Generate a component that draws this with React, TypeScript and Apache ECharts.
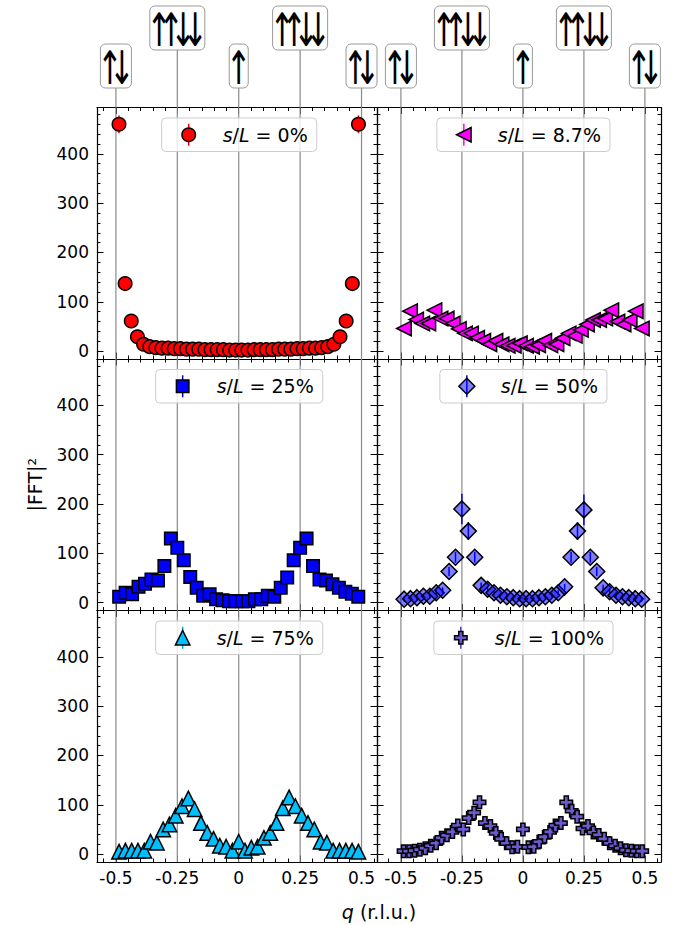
import React, { useEffect, useRef } from 'react';
import * as echarts from 'echarts';

const FONT = '"DejaVu Sans", "Liberation Sans", sans-serif';

// q grids (r.l.u.)
const Q40 = [-0.4875,-0.4625,-0.4375,-0.4125,-0.3875,-0.3625,-0.3375,-0.3125,-0.2875,-0.2625,-0.2375,-0.2125,-0.1875,-0.1625,-0.1375,-0.1125,-0.0875,-0.0625,-0.0375,-0.0125,0.0125,0.0375,0.0625,0.0875,0.1125,0.1375,0.1625,0.1875,0.2125,0.2375,0.2625,0.2875,0.3125,0.3375,0.3625,0.3875,0.4125,0.4375,0.4625,0.4875];
const Q38 = [-0.4868,-0.4605,-0.4342,-0.4079,-0.3816,-0.3553,-0.3289,-0.3026,-0.2763,-0.25,-0.2237,-0.1974,-0.1711,-0.1447,-0.1184,-0.0921,-0.0658,-0.0395,-0.0132,0.0132,0.0395,0.0658,0.0921,0.1184,0.1447,0.1711,0.1974,0.2237,0.25,0.2763,0.3026,0.3289,0.3553,0.3816,0.4079,0.4342,0.4605,0.4868];
const Q39 = [-0.4872,-0.4615,-0.4359,-0.4103,-0.3846,-0.359,-0.3333,-0.3077,-0.2821,-0.2564,-0.2308,-0.2051,-0.1795,-0.1538,-0.1282,-0.1026,-0.0769,-0.0513,-0.0256,0,0.0256,0.0513,0.0769,0.1026,0.1282,0.1538,0.1795,0.2051,0.2308,0.2564,0.2821,0.3077,0.3333,0.359,0.3846,0.4103,0.4359,0.4615,0.4872];
const Q45 = [-0.4889,-0.4667,-0.4444,-0.4222,-0.4,-0.3778,-0.3556,-0.3333,-0.3111,-0.2889,-0.2667,-0.2444,-0.2222,-0.2,-0.1778,-0.1556,-0.1333,-0.1111,-0.0889,-0.0667,-0.0444,-0.0222,0,0.0222,0.0444,0.0667,0.0889,0.1111,0.1333,0.1556,0.1778,0.2,0.2222,0.2444,0.2667,0.2889,0.3111,0.3333,0.3556,0.3778,0.4,0.4222,0.4444,0.4667,0.4889];

// |FFT|^2 values per panel
const V_0 = [460,137,61,29,14,9,7,6,6,5,5,4,4,4,3,3,3,3,2,2,2,2,3,3,3,3,4,4,4,5,5,6,6,7,9,14,29,61,137,460];
const E_0 = [18,6,3,2,1,1,1,1,1,1,1,1,1,1,1,1,1,1,1,1,1,1,1,1,1,1,1,1,1,1,1,1,1,1,1,1,2,3,6,18];
const V_87 = [46,81,64,56,56,83,66,66,56,45,36,36,27,21,14,21,14,11,11,16,11,9,12,21,12,14,26,36,31,43,54,63,63,66,83,60,54,63,81,46];
const V_25 = [12,20,17,32,38,47,45,74,130,111,86,52,30,14,17,7,5,3,3,3,3,7,7,14,12,30,51,86,111,130,74,47,45,37,30,22,18,12];
const V_50 = [7,8,10,13,13,20,25,63,92,190,145,92,35,27,20,15,12,10,8,8,8,10,12,15,20,32,92,145,188,92,63,30,22,15,12,10,8,7];
const E_50 = [5,5,5,5,5,5,6,9,11,31,18,11,6,5,5,5,5,5,5,5,5,5,5,5,5,6,11,18,31,11,9,6,5,5,5,5,5,5];
const V_75 = [5,7,7,7,7,25,23,50,60,78,97,113,91,63,43,31,17,15,7,25,7,13,15,33,43,63,93,115,97,78,63,50,25,23,7,7,7,7,5];
const V_100 = [6,6,7,9,12,17,22,33,38,45,58,50,73,84,105,63,57,43,31,22,14,15,50,14,15,25,35,45,58,63,105,88,76,52,57,44,39,31,22,17,12,8,7,6,6];

const X_MAJOR = [-0.5, -0.25, 0, 0.25, 0.5];
const X_MINOR = [-0.55,-0.45,-0.4,-0.35,-0.3,-0.2,-0.15,-0.1,-0.05,0.05,0.1,0.15,0.2,0.3,0.35,0.4,0.45,0.55];
const Y_MAJOR = [0, 100, 200, 300, 400];
const Y_MINOR = [20,40,60,80,120,140,160,180,220,240,260,280,320,340,360,380,420,440,460,480];
const GUIDE_Q = [-0.5, -0.25, 0, 0.25, 0.5];
const ANNOT_Q = [-0.5, -0.25, 0, 0.25, 0.5];
const ANNOT_ARROWS = [['↑', '↓'], ['↑', '↑', '↓', '↓'], ['↑'], ['↑', '↑', '↓', '↓'], ['↑', '↓']];
const ANNOT_TALL = [false, true, false, true, false];
const LABELS = ['0%', '8.7%', '25%', '50%', '75%', '100%'];
const Y_TITLE = '|FFT|²';
const X_TITLE = '{i|q} (r.l.u.)';

// layout
const GRID_LEFT = [97, 377];
const GRID_WIDTH = [280, 284];
const GRID_TOP0 = 107.5;
const ROW_H = 251.5;
const X_RANGE = [[-0.577, 0.563], [-0.598, 0.566]];
const Y_RANGE = [-16, 494];
const ARROW_STEP = 12;

const LEFT_TRI = 'path://M0,5L10,0L10,10Z';
const PLUS = 'path://M1,0H2V1H3V2H2V3H1V2H0V1H1Z';

const PANELS = [
  { q: Q40, v: V_0, e: E_0, symbol: 'circle', kind: 'circle', size: 13.5, color: '#ff0000', err: '#e00000' },
  { q: Q40, v: V_87, e: null, symbol: LEFT_TRI, kind: 'left', size: 14.5, color: '#ff00ff', err: '#ff00ff' },
  { q: Q38, v: V_25, e: null, symbol: 'rect', kind: 'rect', size: 12.5, color: '#0000ff', err: '#0000aa' },
  { q: Q38, v: V_50, e: E_50, symbol: 'diamond', kind: 'diamond', size: 16, color: 'rgba(0,0,255,0.5)', err: '#0000cc' },
  { q: Q39, v: V_75, e: null, symbol: 'triangle', kind: 'up', size: 14.5, color: '#00bfff', err: '#00a8e0' },
  { q: Q45, v: V_100, e: null, symbol: PLUS, kind: 'plus', size: 12.5, color: '#6a5acd', err: '#5533bb' },
];

const fmtX = (v: number) => String(Math.round(v * 100) / 100);
const fmtY = (v: number) => String(Math.round(v));

function tickAxis(kind: 'x' | 'y', g: number, position: string, min: number, max: number, values: number[], len: number, line: boolean, labels: boolean) {
  return {
    type: 'value', gridIndex: g, position, min, max, silent: true,
    splitLine: { show: false },
    axisLine: { show: line, onZero: false, lineStyle: { color: '#000', width: 1.2 } },
    axisTick: { show: true, inside: true, length: len, customValues: values, lineStyle: { color: '#000', width: 1 } },
    axisLabel: {
      show: labels, customValues: values, color: '#000', fontSize: 17, fontFamily: FONT,
      margin: kind === 'x' ? 7 : 8, formatter: kind === 'x' ? fmtX : fmtY,
    },
  };
}

function legendMarker(kind: string, cx: number, cy: number, s: number, fill: string) {
  const style = { fill, stroke: '#000', lineWidth: 1.5 };
  const h = s / 2;
  if (kind === 'circle') return { type: 'circle', shape: { cx, cy, r: h }, style };
  if (kind === 'rect') return { type: 'rect', shape: { x: cx - h, y: cy - h, width: s, height: s }, style };
  let pts: number[][] = [];
  if (kind === 'left') pts = [[cx - h, cy], [cx + h, cy - h], [cx + h, cy + h]];
  if (kind === 'up') pts = [[cx, cy - h], [cx + h, cy + h], [cx - h, cy + h]];
  if (kind === 'diamond') pts = [[cx, cy - h], [cx + h, cy], [cx, cy + h], [cx - h, cy]];
  if (kind === 'plus') {
    const u = s / 3;
    const P = [[1,0],[2,0],[2,1],[3,1],[3,2],[2,2],[2,3],[1,3],[1,2],[0,2],[0,1],[1,1]];
    pts = P.map(([a, b]) => [cx - h + a * u, cy - h + b * u]);
  }
  return { type: 'polygon', shape: { points: pts }, style };
}

export default function App() {
  const ref = useRef<HTMLDivElement>(null);
  useEffect(() => {
    if (!ref.current) return;
    const chart = echarts.init(ref.current, null, { renderer: 'svg' });
    const grids: any[] = [];
    const xAxis: any[] = [];
    const yAxis: any[] = [];
    const series: any[] = [];
    PANELS.forEach((p, g) => {
      const col = g % 2;
      const row = Math.floor(g / 2);
      grids.push({ left: GRID_LEFT[col], width: GRID_WIDTH[col], top: GRID_TOP0 + row * ROW_H, height: ROW_H, containLabel: false, outerBoundsMode: 'none' });
      const [xmin, xmax] = X_RANGE[col];
      const xMin = X_MINOR.filter((v) => v > xmin && v < xmax);
      xAxis.push(tickAxis('x', g, 'bottom', xmin, xmax, X_MAJOR, 6.5, true, row === 2));
      xAxis.push(tickAxis('x', g, 'bottom', xmin, xmax, xMin, 3.5, false, false));
      xAxis.push(tickAxis('x', g, 'top', xmin, xmax, X_MAJOR, 6.5, true, false));
      xAxis.push(tickAxis('x', g, 'top', xmin, xmax, xMin, 3.5, false, false));
      yAxis.push(tickAxis('y', g, 'left', Y_RANGE[0], Y_RANGE[1], Y_MAJOR, 6.5, true, col === 0));
      yAxis.push(tickAxis('y', g, 'left', Y_RANGE[0], Y_RANGE[1], Y_MINOR, 3.5, false, false));
      yAxis.push(tickAxis('y', g, 'right', Y_RANGE[0], Y_RANGE[1], Y_MAJOR, 6.5, true, false));
      yAxis.push(tickAxis('y', g, 'right', Y_RANGE[0], Y_RANGE[1], Y_MINOR, 3.5, false, false));
      const ax = g * 4;
      series.push({
        type: 'custom', xAxisIndex: ax, yAxisIndex: ax, silent: true, z: 1, clip: false,
        data: GUIDE_Q.map((q) => [q, 0]),
        renderItem: (_params: any, api: any) => {
          const x = api.value(0);
          const a = api.coord([x, Y_RANGE[0]]);
          const b = api.coord([x, Y_RANGE[1]]);
          return { type: 'line', shape: { x1: a[0], y1: a[1], x2: b[0], y2: b[1] }, style: { stroke: '#8a8a8a', lineWidth: 1.2 } };
        },
      });
      if (p.e) {
        const e = p.e;
        series.push({
          type: 'custom', xAxisIndex: ax, yAxisIndex: ax, silent: true, z: 2, clip: false,
          data: p.q.map((q, i) => [q, p.v[i], e[i]]),
          renderItem: (_params: any, api: any) => {
            const x = api.value(0), y = api.value(1), d = api.value(2);
            const a = api.coord([x, y - d]);
            const b = api.coord([x, y + d]);
            return { type: 'line', shape: { x1: a[0], y1: a[1], x2: b[0], y2: b[1] }, style: { stroke: p.err, lineWidth: 1.5 } };
          },
        });
      }
      series.push({
        type: 'scatter', xAxisIndex: ax, yAxisIndex: ax, silent: true, z: 3,
        symbol: p.symbol, symbolSize: p.size,
        itemStyle: { color: p.color, borderColor: '#000', borderWidth: 1.5, opacity: 1 },
        data: p.q.map((q, i) => [q, p.v[i]]),
      });
    });
    chart.setOption({ animation: false, grid: grids, xAxis, yAxis, series });

    const canvas = document.createElement('canvas');
    const ctx = canvas.getContext('2d')!;
    const measure = (t: string, size: number, italic = false) => {
      ctx.font = `${italic ? 'italic ' : ''}${size}px "DejaVu Sans"`;
      return ctx.measureText(t).width;
    };

    const els: any[] = [];
    // annotations above the top row
    [0, 1].forEach((g) => {
      const yTop = chart.convertToPixel({ yAxisIndex: g * 4 } as any, Y_RANGE[1]) as unknown as number;
      ANNOT_Q.forEach((q, i) => {
        const x = chart.convertToPixel({ xAxisIndex: g * 4 } as any, q) as unknown as number;
        const yb = yTop - (ANNOT_TALL[i] ? 57.5 : 19.5);
        const arrows = ANNOT_ARROWS[i];
        const n = arrows.length;
        const bw = n * ARROW_STEP + 7;
        const bh = 44;
        els.push({ type: 'line', silent: true, z: 5, shape: { x1: x, y1: yTop, x2: x, y2: yb }, style: { stroke: '#8a8a8a', lineWidth: 1.2 } });
        els.push({ type: 'rect', silent: true, z: 6, shape: { x: x - bw / 2, y: yb - bh, width: bw, height: bh, r: 5 }, style: { fill: '#fff', stroke: '#999', lineWidth: 1 } });
        arrows.forEach((a, k) => {
          els.push({
            type: 'text', silent: true, z: 7,
            x: x + (k - (n - 1) / 2) * ARROW_STEP, y: yb - bh / 2 + 2.5, scaleX: 0.66, scaleY: 1,
            style: { text: a, fontSize: 46, fontFamily: FONT, fill: '#000', align: 'center', verticalAlign: 'middle' },
          });
        });
      });
    });
    // legends
    PANELS.forEach((p, g) => {
      const ax = g * 4;
      const cx = (chart.convertToPixel({ xAxisIndex: ax } as any, 0) as unknown as number) + 0.5;
      const top = (chart.convertToPixel({ yAxisIndex: ax } as any, Y_RANGE[1]) as unknown as number) + 10.5;
      const rest = ` = ${LABELS[g]}`;
      const tw = measure('s', 19, true) + measure('/', 19) + measure('L', 19, true) + measure(rest, 19);
      const W = 61 + tw + 9;
      const H = 33.5;
      const left = cx - W / 2;
      const cy = top + H / 2;
      els.push({ type: 'rect', silent: true, z: 20, shape: { x: left, y: top, width: W, height: H, r: 4 }, style: { fill: 'rgba(255,255,255,0.8)', stroke: '#cccccc', lineWidth: 1 } });
      els.push({ type: 'line', silent: true, z: 21, shape: { x1: left + 27, y1: cy - 11, x2: left + 27, y2: cy + 11 }, style: { stroke: p.err, lineWidth: 1.5 } });
      els.push({ ...legendMarker(p.kind, left + 27, cy, p.size, p.color), silent: true, z: 22 });
      els.push({
        type: 'text', silent: true, z: 22, x: left + 61, y: cy,
        style: {
          text: `{i|s}/{i|L}${rest}`, fontSize: 19, fontFamily: FONT, fill: '#000', align: 'left', verticalAlign: 'middle',
          rich: { i: { fontStyle: 'italic', fontSize: 19, fontFamily: FONT, fill: '#000' } },
        },
      });
    });
    // y title centred on the stack of panels
    const yTop0 = chart.convertToPixel({ yAxisIndex: 0 } as any, Y_RANGE[1]) as unknown as number;
    const yBot2 = chart.convertToPixel({ yAxisIndex: 16 } as any, Y_RANGE[0]) as unknown as number;
    const yMid = (yTop0 + yBot2) / 2;
    const yw = measure(Y_TITLE, 19);
    els.push({ type: 'text', silent: true, z: 10, x: 35, y: yMid + yw / 2, rotation: Math.PI / 2, style: { text: Y_TITLE, fontSize: 19, fontFamily: FONT, fill: '#000', align: 'left', verticalAlign: 'middle' } });
    // x title
    const xL = chart.convertToPixel({ xAxisIndex: 16 } as any, X_RANGE[0][0]) as unknown as number;
    const xR = chart.convertToPixel({ xAxisIndex: 20 } as any, X_RANGE[1][1]) as unknown as number;
    els.push({
      type: 'text', silent: true, z: 10, x: (xL + xR) / 2, y: 912,
      style: { text: X_TITLE, fontSize: 19, fontFamily: FONT, fill: '#000', align: 'center', verticalAlign: 'middle', rich: { i: { fontStyle: 'italic', fontSize: 19, fontFamily: FONT, fill: '#000' } } },
    });
    chart.setOption({ graphic: { elements: els } });
    return () => chart.dispose();
  }, []);
  return <div ref={ref} style={{ position: 'absolute', left: 0, top: 0, width: 681, height: 925, background: '#fff' }} />;
}
